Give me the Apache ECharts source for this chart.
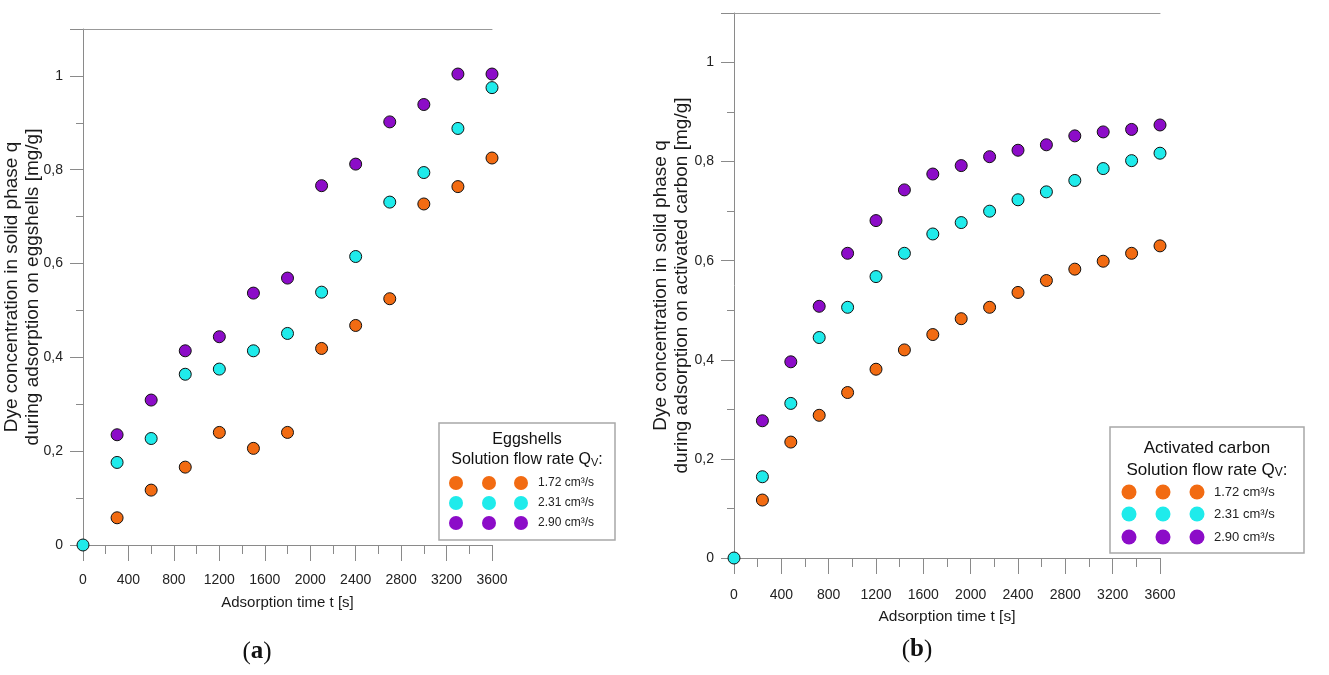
<!DOCTYPE html>
<html>
<head>
<meta charset="utf-8">
<script src="https://cdn.jsdelivr.net/npm/echarts@6/dist/echarts.min.js"></script>
<style>
  html, body { margin: 0; background: #fff; }
  #chart { width: 1329px; height: 675px; }
</style>
</head>
<body>
<div id="chart"></div>
<script>
// (a) eggshells, samples every 300 s
var timeA = [0, 300, 600, 900, 1200, 1500, 1800, 2100, 2400, 2700, 3000, 3300, 3600];
var eggOrange = [null, 0.058, 0.117, 0.166, 0.240, 0.206, 0.240, 0.419, 0.468, 0.525, 0.727, 0.764, 0.825];
var eggCyan   = [0, 0.176, 0.227, 0.364, 0.375, 0.414, 0.451, 0.539, 0.615, 0.731, 0.794, 0.888, 0.975];
var eggPurple = [null, 0.235, 0.309, 0.414, 0.444, 0.537, 0.569, 0.766, 0.812, 0.902, 0.939, 1.004, 1.004];

// (b) activated carbon, samples every 240 s
var timeB = [0, 240, 480, 720, 960, 1200, 1440, 1680, 1920, 2160, 2400, 2640, 2880, 3120, 3360, 3600];
var carbonOrange = [null, 0.117, 0.234, 0.288, 0.334, 0.381, 0.420, 0.451, 0.483, 0.506, 0.536, 0.560, 0.583, 0.599, 0.615, 0.630];
var carbonCyan   = [0, 0.164, 0.312, 0.445, 0.506, 0.568, 0.615, 0.654, 0.677, 0.700, 0.723, 0.739, 0.762, 0.786, 0.802, 0.817];
var carbonPurple = [null, 0.277, 0.396, 0.508, 0.615, 0.681, 0.743, 0.775, 0.792, 0.810, 0.823, 0.834, 0.852, 0.860, 0.865, 0.874];

var flowRates = ['1.72 cm³/s', '2.31 cm³/s', '2.90 cm³/s'];
var colors = ['#f26b12', '#1febeb', '#8c0cc8'];

var sans = "'Liberation Sans', Arial, sans-serif";
var serif = "'Liberation Serif', 'DejaVu Serif', serif";
var axisGray = '#8a8a8a';

function pairs(t, v) {
  var out = [];
  for (var i = 0; i < t.length; i++) {
    if (v[i] != null) out.push([t[i], v[i]]);
  }
  return out;
}

function xAxisBottom(grid, margin, gap, nameSize) {
  return {
    type: 'value', gridIndex: grid, min: 0, max: 3600, interval: 400,
    name: 'Adsorption time t [s]', nameLocation: 'middle', nameGap: gap,
    nameTextStyle: { fontFamily: sans, fontSize: nameSize, color: '#1a1a1a' },
    axisLine: { lineStyle: { color: axisGray } },
    axisTick: { show: true, length: 16, lineStyle: { color: axisGray } },
    minorTick: { show: true, splitNumber: 2, length: 9, lineStyle: { color: axisGray } },
    axisLabel: { fontFamily: sans, fontSize: 14, color: '#222', margin: margin,
      formatter: function (v) { return String(v); } },
    splitLine: { show: false }
  };
}

function xAxisTop(grid) {
  return {
    type: 'value', gridIndex: grid, position: 'top', min: 0, max: 3600,
    axisLine: { lineStyle: { color: '#999' } },
    axisTick: { show: false }, axisLabel: { show: false }, splitLine: { show: false }
  };
}

function yAxis(grid, name, gap) {
  return {
    type: 'value', gridIndex: grid, min: 0, max: 1.1, interval: 0.2,
    name: name, nameLocation: 'middle', nameGap: gap, nameMoveOverlap: false,
    nameTextStyle: { fontFamily: sans, fontSize: 19, lineHeight: 21, color: '#1a1a1a' },
    axisLine: { show: true, lineStyle: { color: axisGray } },
    axisTick: { show: true, length: 13, lineStyle: { color: axisGray } },
    minorTick: { show: true, splitNumber: 2, length: 7, lineStyle: { color: axisGray } },
    axisLabel: {
      fontFamily: sans, fontSize: 14, color: '#222', margin: 20,
      formatter: function (v) { return v > 1.05 ? '' : String(+v.toFixed(1)).replace('.', ','); }
    },
    splitLine: { show: false }
  };
}

function scatter(name, gi, data, color) {
  return {
    name: name, type: 'scatter', xAxisIndex: gi, yAxisIndex: gi,
    symbolSize: 12, data: data,
    itemStyle: { color: color, borderColor: '#111', borderWidth: 1, opacity: 1 }
  };
}

function legendBox(x, y, w, h, title, rows, cols, textX, r, titleSize, entrySize) {
  var children = [
    { type: 'rect', shape: { x: x, y: y, width: w, height: h },
      style: { fill: '#fff', stroke: '#a8a8a8', lineWidth: 1.5 } },
    { type: 'text', x: x + w / 2, y: rows.titleY,
      style: { text: title, fontFamily: sans, fontSize: titleSize, fill: '#111', align: 'center', verticalAlign: 'middle' } },
    { type: 'text', x: x + w / 2, y: rows.subY,
      style: {
        text: '{a|Solution flow rate Q}{s|V}{a|:}', align: 'center', verticalAlign: 'middle',
        rich: {
          a: { fontFamily: sans, fontSize: titleSize, lineHeight: titleSize + 2, verticalAlign: 'bottom', fill: '#111' },
          s: { fontFamily: sans, fontSize: titleSize - 5, lineHeight: titleSize - 7, verticalAlign: 'bottom', fill: '#111' }
        }
      } }
  ];
  for (var i = 0; i < 3; i++) {
    for (var j = 0; j < cols.length; j++) {
      children.push({ type: 'circle', shape: { cx: cols[j], cy: rows.ys[i], r: r }, style: { fill: colors[i] } });
    }
    children.push({ type: 'text', x: textX, y: rows.ys[i],
      style: { text: flowRates[i], fontFamily: sans, fontSize: entrySize, fill: '#222', verticalAlign: 'middle' } });
  }
  return { type: 'group', children: children };
}

function panelLabel(cx, cy, letter) {
  return { type: 'text', x: cx, y: cy,
    style: {
      text: '{p|(}{b|' + letter + '}{p|)}', align: 'center', verticalAlign: 'middle',
      rich: {
        p: { fontFamily: serif, fontSize: 25, fill: '#111' },
        b: { fontFamily: serif, fontSize: 25, fontWeight: 'bold', fill: '#111' }
      }
    } };
}

var chart = echarts.init(document.getElementById('chart'));
var option = {
  backgroundColor: '#fff',
  animation: false,
  grid: [
    { left: 83, width: 409, top: 29, height: 516, containLabel: false, outerBoundsMode: 'none' },
    { left: 734, width: 426, top: 13, height: 545, containLabel: false, outerBoundsMode: 'none' }
  ],
  xAxis: [xAxisBottom(0, 28, 50, 15), xAxisBottom(1, 30, 51, 15.5), xAxisTop(0), xAxisTop(1)],
  yAxis: [
    yAxis(0, 'Dye concentration in solid phase q\nduring adsorption on eggshells [mg/g]', 40),
    yAxis(1, 'Dye concentration in solid phase q\nduring adsorption on activated carbon [mg/g]', 42)
  ],
  series: [
    scatter(flowRates[0], 0, pairs(timeA, eggOrange), colors[0]),
    scatter(flowRates[1], 0, pairs(timeA, eggCyan), colors[1]),
    scatter(flowRates[2], 0, pairs(timeA, eggPurple), colors[2]),
    scatter(flowRates[0], 1, pairs(timeB, carbonOrange), colors[0]),
    scatter(flowRates[1], 1, pairs(timeB, carbonCyan), colors[1]),
    scatter(flowRates[2], 1, pairs(timeB, carbonPurple), colors[2])
  ],
  graphic: [
    legendBox(439, 423, 176, 117, 'Eggshells', { titleY: 440, subY: 459, ys: [483, 503, 523] },
      [456, 489, 521], 538, 7, 16, 12),
    legendBox(1110, 427, 194, 126, 'Activated carbon', { titleY: 448, subY: 469, ys: [492, 514, 537] },
      [1129, 1163, 1197], 1214, 7.5, 17, 13),
    panelLabel(257, 652, 'a'),
    panelLabel(917, 650, 'b')
  ]
};
chart.setOption(option);
</script>
</body>
</html>
